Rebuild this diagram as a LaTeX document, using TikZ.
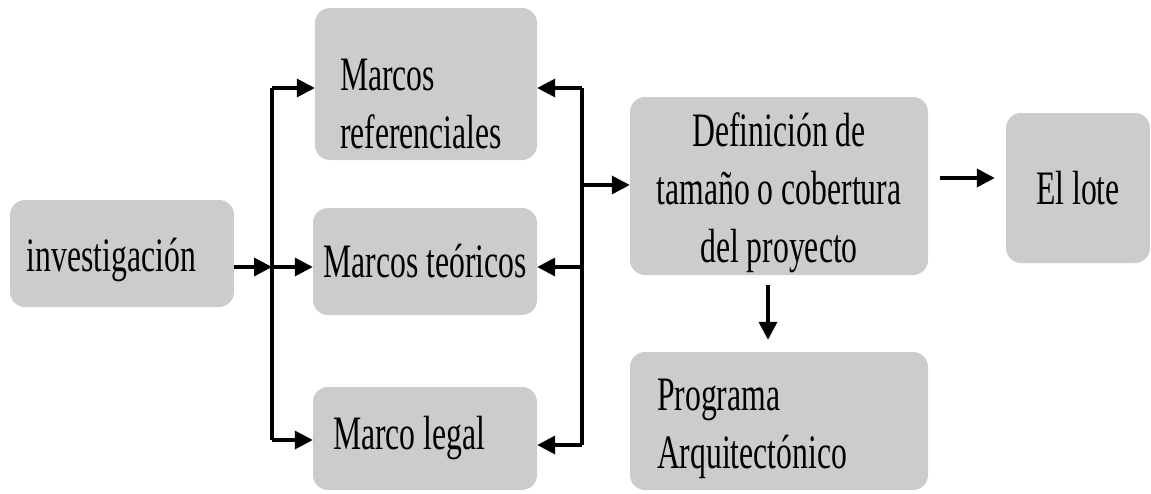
\documentclass[tikz,border=0pt]{standalone}
\usepackage{fontspec}
\setmainfont[FakeStretch=0.66]{Liberation Serif}
\usetikzlibrary{arrows.meta,calc}
\definecolor{boxgray}{RGB}{204,204,204}
\newcommand{\lift}[1]{\rule{0pt}{#1}}
\begin{document}
\begin{tikzpicture}[x=1pt,y=-1pt,
  box/.style={fill=boxgray,rounded corners=15pt,inner sep=0pt,font=\fontsize{48}{58}\selectfont},
  arr/.style={line width=3.5pt,-{Triangle[length=18pt,width=18pt]}},
  ln/.style={line width=3.5pt}]
\useasboundingbox (0,0) rectangle (1151,493);
\node[box,minimum width=224pt,minimum height=107pt,text width=190pt,align=flush left] (inv) at (122,253.5) {\lift{47pt}investigación};
\node[box,minimum width=222pt,minimum height=152pt,text width=172pt,align=flush left] (mr) at (426,84) {\lift{72pt}Marcos\\referenciales};
\node[box,minimum width=224pt,minimum height=107pt] (mt) at (425,261.5) {Marcos teóricos};
\node[box,minimum width=224pt,minimum height=103pt,text width=184pt,align=flush left] (ml) at (425,438.5) {Marco legal};
\node[box,minimum width=298pt,minimum height=178pt,align=center] (def) at (779,186) {\lift{48pt}Definición de\\tamaño o cobertura\\del proyecto};
\node[box,minimum width=144pt,minimum height=150pt] (lote) at (1078,188) {El lote};
\node[box,minimum width=298pt,minimum height=138pt,text width=244pt,align=flush left] (prog) at (779,421) {\lift{48pt}Programa\\Arquitectónico};
\coordinate (l1) at (272,88);
\coordinate (lj) at (272,267);
\coordinate (l3) at (272,440);
\coordinate (r1) at (582,88);
\coordinate (r2) at (582,267);
\coordinate (r3) at (582,445);
\coordinate (rd) at (582,185);
\draw[ln] (l1) -- (l3);
\draw[arr] (inv.east |- lj) -- (lj);
\draw[arr] (l1) -- (l1 -| mr.west);
\draw[arr] (lj) -- (lj -| mt.west);
\draw[arr] (l3) -- (l3 -| ml.west);
\draw[ln] (r1) -- (r3);
\draw[arr] (r1) -- (r1 -| mr.east);
\draw[arr] (r2) -- (r2 -| mt.east);
\draw[arr] (r3) -- (r3 -| ml.east);
\draw[arr] (rd) -- (rd -| def.west);
\draw[arr] ($(def.east)+(12,-8)$) -- ($(lote.west)+(-11,-10)$);
\draw[arr] ($(def.south)+(-11,10)$) -- ($(prog.north)+(-11,-12)$);
\end{tikzpicture}
\end{document}
